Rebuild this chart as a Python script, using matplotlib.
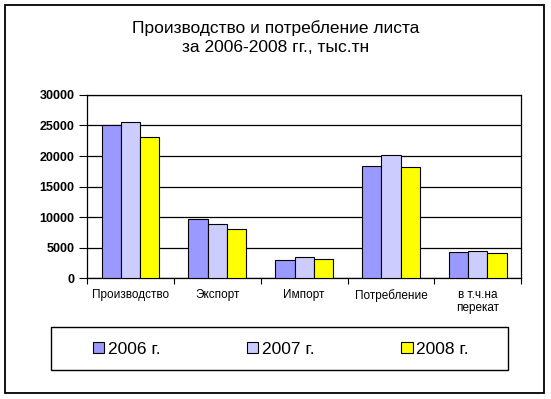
import numpy as np
import matplotlib.pyplot as plt
from matplotlib.patches import Rectangle
from matplotlib.ticker import FixedLocator

plt.rcParams['font.family'] = ['Liberation Sans', 'DejaVu Sans']

categories = ["Производство", "Экспорт", "Импорт", "Потребление", "в т.ч.на\nперекат"]
years = ["2006 г.", "2007 г.", "2008 г."]
v2006 = [25000, 9700, 2950, 18400, 4250]
v2007 = [25600, 8850, 3400, 20150, 4400]
v2008 = [23100, 8000, 3100, 18200, 4100]
colors = ["#9999FF", "#CCCCFF", "#FFFF00"]

fig = plt.figure(figsize=(5.51, 3.99), dpi=100)
ax = fig.add_axes([0.158, 0.303, 0.788, 0.459])

x = np.arange(len(categories))
w = 1 / 4.5
for i, (vals, lab) in enumerate(zip([v2006, v2007, v2008], years)):
    ax.bar(x + (i - 1) * w, vals, w, color=colors[i], edgecolor='black',
           linewidth=0.8, label=lab, zorder=3)

ax.set_xlim(-0.5, len(categories) - 0.5)
ax.set_ylim(0, 30000)
ax.set_yticks(range(0, 30001, 5000))
ax.yaxis.grid(True, color='black', linewidth=0.9, zorder=0)
ax.set_xticks(x)
ax.set_xticklabels(categories, fontsize=8.5, linespacing=1.1)
ax.tick_params(axis='x', length=0, pad=8)
ax.xaxis.set_minor_locator(FixedLocator(np.arange(-0.5, len(categories), 1)))
ax.tick_params(axis='x', which='minor', length=4, width=0.8)
ax.tick_params(axis='y', labelsize=9, length=6, width=0.8, pad=3)
for t in ax.get_yticklabels():
    t.set_fontweight('bold')
for s in ax.spines.values():
    s.set_linewidth(0.9)

fig.text(0.5, 0.93, "Производство и потребление листа", ha='center', va='center',
         fontsize=12.5)
fig.text(0.5, 0.88, "за 2006-2008 гг., тыс.тн", ha='center', va='center',
         fontsize=12.5)

# legend box drawn separately, entries placed inside it
fig.patches.append(Rectangle((0.0926, 0.0727), 0.829, 0.108, transform=fig.transFigure,
                             fill=False, edgecolor='black', linewidth=1.0))
leg = fig.legend(loc='center left', ncol=3, bbox_to_anchor=(93 / 551, 0.125),
                 fontsize=12.5, frameon=False, handlelength=0.65, handleheight=0.65,
                 handletextpad=0.2, columnspacing=5.0, borderpad=0, borderaxespad=0)

fig.patches.append(Rectangle((0.009, 0.015), 0.978, 0.972, transform=fig.transFigure,
                             fill=False, edgecolor='black', linewidth=1.3))

fig.savefig("out.png", dpi=100)
